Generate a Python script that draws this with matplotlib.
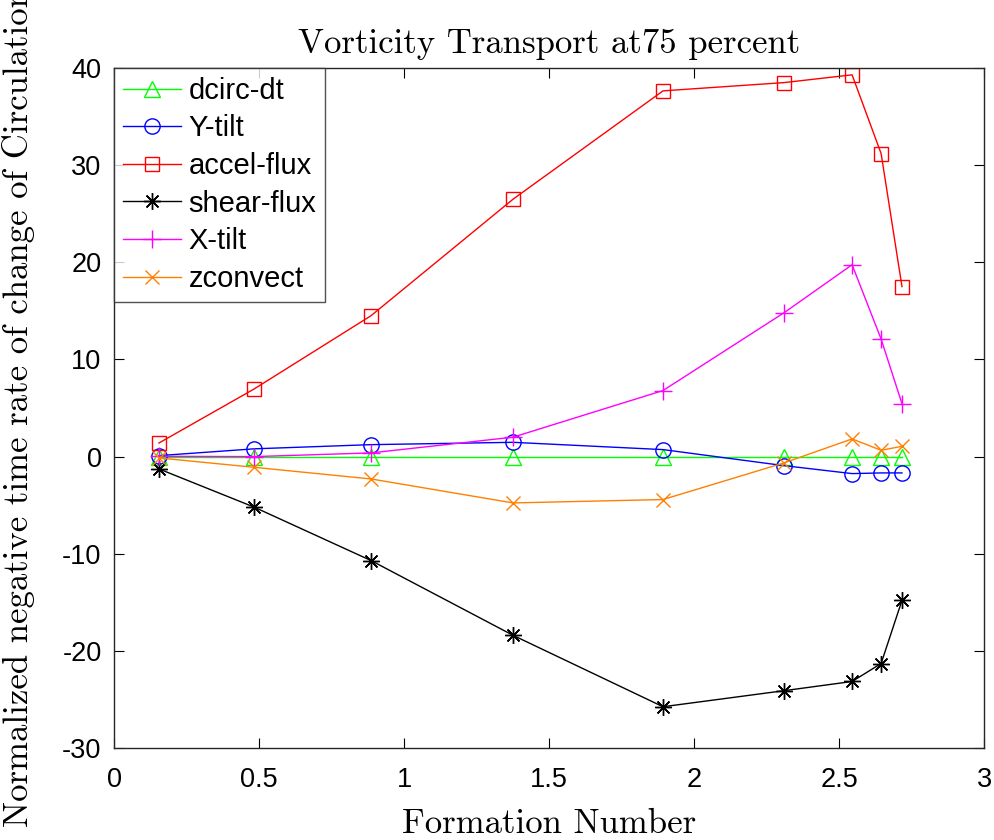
import numpy as np
import matplotlib
matplotlib.use('Agg')
import matplotlib.pyplot as plt

# formation number at each sample
formation = [0.155, 0.483, 0.886, 1.376, 1.893, 2.31, 2.545, 2.645, 2.717]

dcirc_dt = [0, 0, 0, 0, 0, 0, 0, 0, 0]
y_tilt = [0.1, 0.8, 1.23, 1.47, 0.72, -0.93, -1.75, -1.68, -1.68]
accel_flux = [1.4, 6.96, 14.5, 26.5, 37.65, 38.5, 39.3, 31.2, 17.5]
shear_flux = [-1.27, -5.2, -10.7, -18.4, -25.75, -24.1, -23.15, -21.3, -14.8]
x_tilt = [0.03, 0.0, 0.38, 2.0, 6.8, 14.8, 19.75, 12.1, 5.45]
zconvect = [-0.14, -1.1, -2.3, -4.77, -4.42, -0.65, 1.82, 0.65, 1.06]

series_names = ['dcirc-dt', 'Y-tilt', 'accel-flux', 'shear-flux', 'X-tilt', 'zconvect']

plt.rcParams['font.family'] = ['Liberation Sans', 'DejaVu Sans']
plt.rcParams['axes.unicode_minus'] = False

fig = plt.figure(figsize=(9.95, 8.4), dpi=100)
ax = fig.add_axes([0.1146, 0.1095, 0.8744, 0.8095])

asterisk = (8, 2, 0)
styles = [
    (dcirc_dt, '#00ff00', '^', 11),
    (y_tilt, '#0000ff', 'o', 11),
    (accel_flux, '#ff0000', 's', 10),
    (shear_flux, 'black', asterisk, 12),
    (x_tilt, '#ff00ff', '+', 13),
    (zconvect, '#ff8000', 'x', 10),
]

for (vals, col, mk, ms), name in zip(styles, series_names):
    ax.plot(formation, vals, color=col, marker=mk, markersize=ms,
            markerfacecolor='none', markeredgecolor=col, markeredgewidth=1.0,
            linewidth=1.0, label=name)

ax.set_xlim(0, 3)
ax.set_ylim(-30, 40)
ax.set_xticks(np.arange(0, 3.01, 0.5))
ax.set_xticklabels(['0', '0.5', '1', '1.5', '2', '2.5', '3'])
ax.set_yticks(np.arange(-30, 41, 10))
ax.tick_params(direction='in', length=7, width=0.8, labelsize=19.5,
               top=True, right=True)
ax.tick_params(axis='x', pad=14)
ax.tick_params(axis='y', pad=9)
for sp in ax.spines.values():
    sp.set_linewidth(1.0)
    sp.set_color('#262626')

serif = 'cmr10'
ax.set_title('Vorticity Transport at75 percent', fontfamily=serif, fontsize=25, pad=11)
ax.set_xlabel('Formation Number', fontfamily=serif, fontsize=25, labelpad=11)
# the reference label is longer than the figure and runs off both ends
ax.set_ylabel('Normalized negative time rate of change of Circulation',
              fontfamily=serif, fontsize=25)
ax.yaxis.set_label_coords(-0.091, 0.5)

leg = ax.legend(loc='upper left', fontsize=21, handlelength=2.0, frameon=True,
                fancybox=False, borderaxespad=0, borderpad=0.3, labelspacing=0.33,
                handletextpad=0.25)
leg.get_frame().set_edgecolor('#262626')
leg.get_frame().set_linewidth(1.0)

fig.savefig('out.png', dpi=100)
